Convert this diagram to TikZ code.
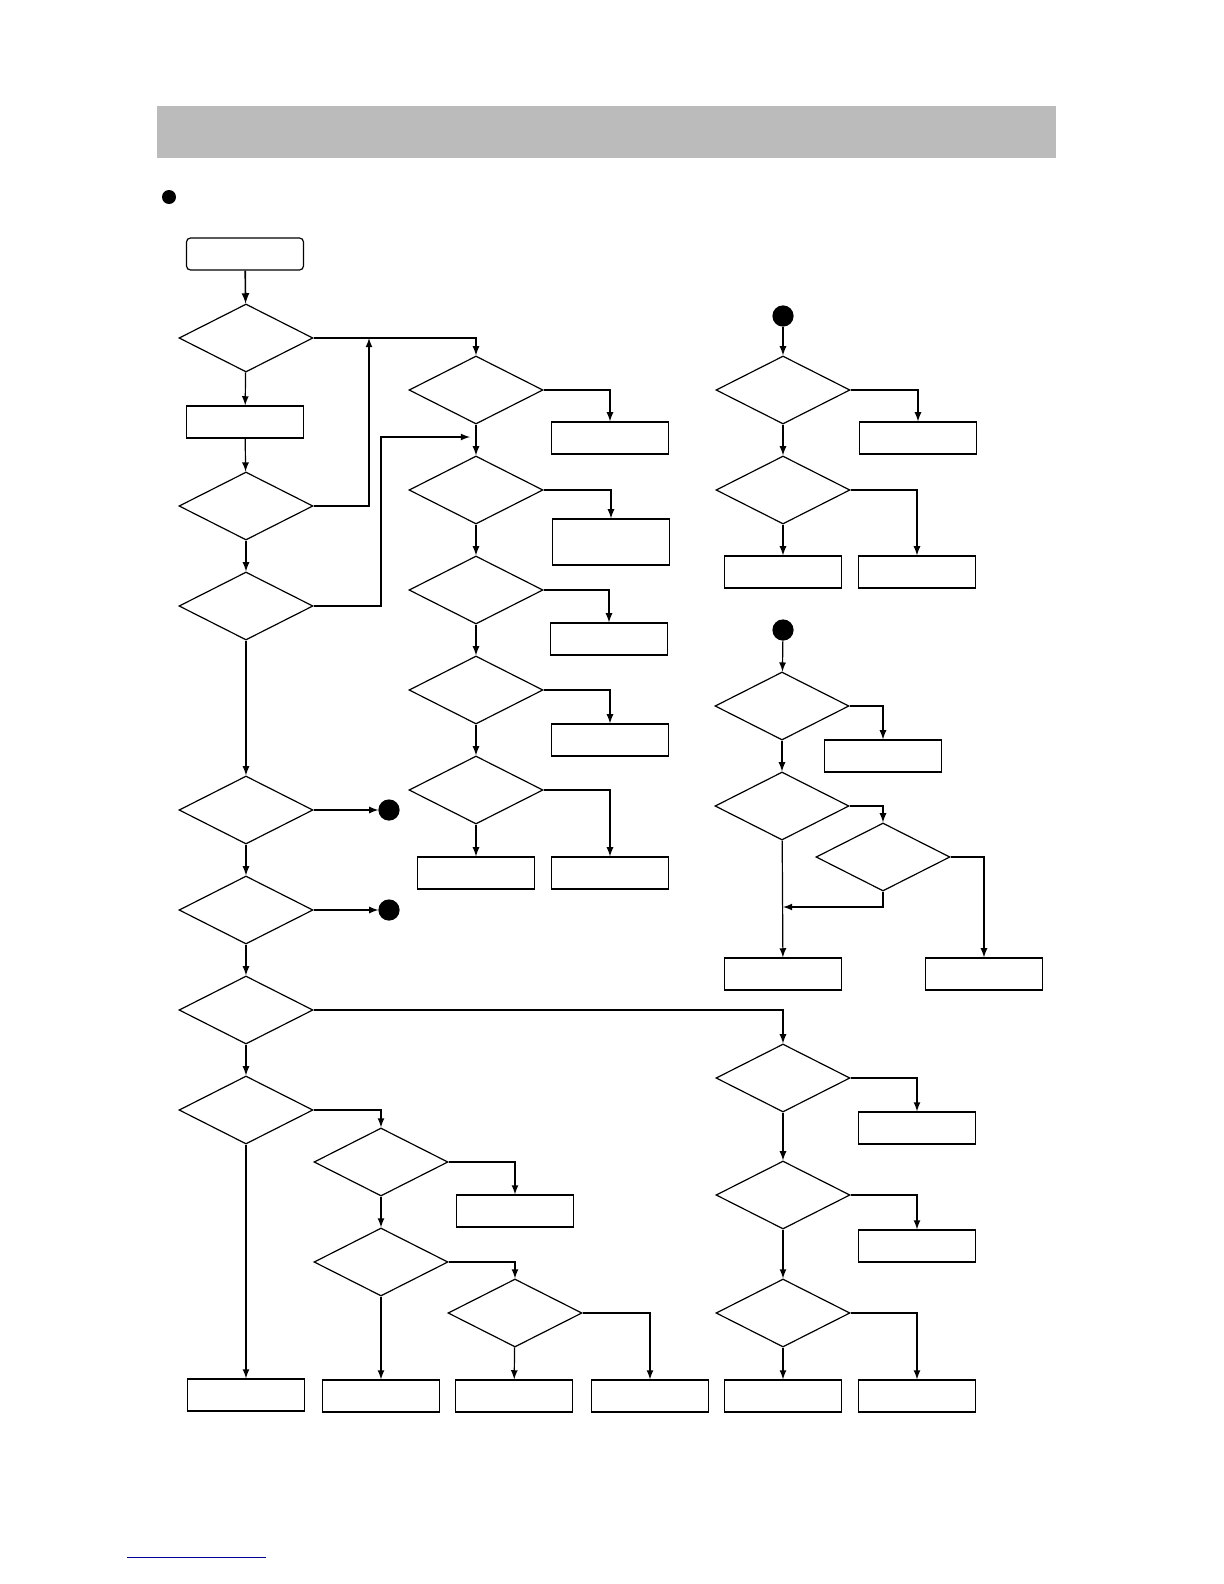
\documentclass[tikz,border=0pt]{standalone}
\usepackage{tikz}
\usetikzlibrary{arrows,shapes.geometric}
\definecolor{barGray}{RGB}{187,187,187}
\tikzset{
  test/.style={draw, diamond, aspect=2, minimum width=67bp, minimum height=34bp, inner sep=0pt},
  act/.style={draw, rectangle, minimum width=58.5bp, minimum height=16bp, inner sep=0pt},
  conn/.style={draw, circle, fill=black, minimum size=10bp, inner sep=0pt},
  flow/.style={-latex}
}
\begin{document}
\begin{tikzpicture}[x=0.5bp, y=-0.5bp, semithick]
	% Page
	\useasboundingbox (0,0) rectangle (1224,1584);
	\fill[barGray] (157,106) rectangle (1056,158);
	\fill (169,197) circle (3.5bp);

	% Main column
	\node (start) [draw, rounded corners=2pt, minimum width=58.5bp, minimum height=16bp] at (245,254) {};
	\node (d1) [test] at (246,338) {};
	\node (a1) [act] at (245,422) {};
	\node (d2) [test] at (246,506) {};
	\node (d3) [test] at (246,606) {};
	\node (d4) [test] at (246,810) {};
	\node (d5) [test] at (246,910) {};
	\node (d6) [test] at (246,1010) {};
	\node (d7) [test] at (246,1110) {};
	\node (a7) [act] at (246,1395) {};
	\node (c4) [conn] at (389,810) {};
	\node (c5) [conn] at (389,910) {};

	% Second column
	\foreach \i/\y in {1/390, 2/490, 3/590, 4/690, 5/790}
		\node (b\i) [test] at (476,\y) {};
	\node (ab1) [act] at (610,438) {};
	\node (ab2) [act, minimum height=23bp] at (611,542) {};
	\node (ab3) [act] at (609,639) {};
	\node (ab4) [act] at (610,740) {};
	\node (ab5) [act] at (610,873) {};
	\node (ab6) [act] at (476,873) {};

	% Lower branch
	\node (f1) [test] at (381,1162) {};
	\node (f2) [test] at (381,1262) {};
	\node (f3) [test] at (515,1313) {};
	\node (af1) [act] at (515,1211) {};
	\node (af2) [act] at (381,1396) {};
	\node (af3) [act] at (514,1396) {};
	\node (af4) [act] at (650,1396) {};

	% Right column, top
	\node (cg) [conn] at (783,316) {};
	\node (g1) [test] at (783,390) {};
	\node (g2) [test] at (783,490) {};
	\node (ag1) [act] at (918,438) {};
	\node (ag2) [act] at (917,572) {};
	\node (ag3) [act] at (783,572) {};

	% Right column, middle
	\node (ch) [conn] at (783,630) {};
	\node (h1) [test] at (782,706) {};
	\node (h2) [test] at (782,806) {};
	\node (h3) [test] at (883,857) {};
	\node (ah1) [act] at (883,756) {};
	\node (ah2) [act] at (783,974) {};
	\node (ah3) [act] at (984,974) {};

	% Right column, bottom
	\foreach \i/\y in {1/1078, 2/1195, 3/1313}
		\node (e\i) [test] at (783,\y) {};
	\node (ae1) [act] at (917,1128) {};
	\node (ae2) [act] at (917,1246) {};
	\node (ae3) [act] at (917,1396) {};
	\node (ae4) [act] at (783,1396) {};

	% Main column flow
	\draw[flow, thick] (start) -- (d1);
	\draw[flow] (d1) -- (a1);
	\draw[flow] (a1) -- (d2);
	\draw[flow] (d2) -- (d3);
	\draw[flow] (d3) -- (d4);
	\draw[flow] (d4) -- (c4);
	\draw[flow] (d5) -- (c5);
	\draw[flow] (d4) -- (d5);
	\draw[flow] (d5) -- (d6);
	\draw[flow] (d6) -- (d7);
	\draw[flow] (d7) -- (a7);
	\draw[flow] (d1.east) -| (b1.north);
	\draw[flow] (d2.east) -| (369,338);
	\draw[flow] (d3.east) -| (381,437) -- (470,437);
	\draw[flow] (d6.east) -| (e1.north);
	\draw[flow] (d7.east) -| (f1.north);

	% Second column flow
	\foreach \i/\j in {1/2, 2/3, 3/4, 4/5}
		\draw[flow] (b\i) -- (b\j);
	\foreach \i in {1,...,5}
		\draw[flow] (b\i.east) -| (ab\i.north);
	\draw[flow] (b5) -- (ab6);

	% Lower branch flow
	\draw[flow] (f1.east) -| (af1.north);
	\draw[flow] (f1) -- (f2);
	\draw[flow] (f2) -- (af2);
	\draw[flow] (f2.east) -| (f3.north);
	\draw[flow] (f3) -- (af3);
	\draw[flow] (f3.east) -| (af4.north);

	% Right column flow
	\draw[flow] (cg) -- (g1);
	\draw[flow] (g1) -- (g2);
	\draw[flow] (g1.east) -| (ag1.north);
	\draw[flow] (g2.east) -| (ag2.north);
	\draw[flow] (g2) -- (ag3);
	\draw[flow] (ch) -- (h1);
	\draw[flow] (h1) -- (h2);
	\draw[flow] (h1.east) -| (ah1.north);
	\draw[flow] (h2.east) -| (h3.north);
	\draw[flow] (h3.east) -| (ah3.north);
	\draw[flow] (h2) -- (ah2);
	\draw[flow] (h3.south) |- (783,907);
	\foreach \i/\j in {1/2, 2/3}
		\draw[flow] (e\i) -- (e\j);
	\foreach \i in {1,2,3}
		\draw[flow] (e\i.east) -| (ae\i.north);
	\draw[flow] (e3) -- (ae4);

	% Footer
	\draw[blue!60!black, thin] (127,1557) -- (266,1557);
\end{tikzpicture}
\end{document}
